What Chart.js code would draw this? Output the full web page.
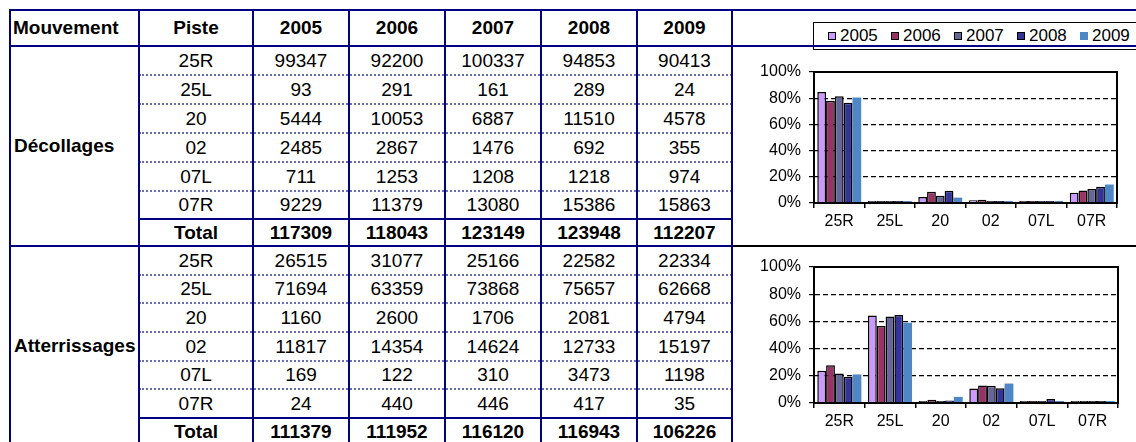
<!DOCTYPE html>
<html>
<head>
<meta charset="utf-8">
<script src="https://cdn.jsdelivr.net/npm/chart.js@4.4.0/dist/chart.umd.min.js"></script>
<style>
body { margin: 0; width: 1136px; height: 442px; overflow: hidden; background: #fff; position: relative;
  font-family: "Liberation Sans", Arial, sans-serif; }
.cell { position: absolute; display: flex; align-items: center; justify-content: center; font-size: 19px; color: #000; white-space: nowrap; }
.b { font-weight: bold; }
.ln { position: absolute; background: #000080; }
.dot { position: absolute; height: 0; border-top: 2px dotted #6a6ab8; }
#legend { position: absolute; left: 813px; top: 22px; width: 340px; height: 26px; border: 1.5px solid #000; background: #fff; }
.item { position: absolute; top: 0; height: 26px; display: flex; align-items: center; font-size: 17px; }
.mk { width: 6px; height: 6px; border: 1px solid #000; margin-right: 4px; }
canvas { position: absolute; }
</style>
</head>
<body>
<canvas id="decChart" width="403" height="190" style="left:733px; top:54px;"></canvas>
<canvas id="attChart" width="403" height="194" style="left:733px; top:248px;"></canvas>
<div id="legend"></div>
<script>
const runways = ['25R', '25L', '20', '02', '07L', '07R'];
const years = ['2005', '2006', '2007', '2008', '2009'];
const colors = ['#CC99FF', '#993366', '#666699', '#333399', '#4F86C6'];

// Décollages (table)
const dec2005 = [99347, 93, 5444, 2485, 711, 9229];
const dec2006 = [92200, 291, 10053, 2867, 1253, 11379];
const dec2007 = [100337, 161, 6887, 1476, 1208, 13080];
const dec2008 = [94853, 289, 11510, 692, 1218, 15386];
const dec2009 = [90413, 24, 4578, 355, 974, 15863];
const decTotal = [117309, 118043, 123149, 123948, 112207];

// Atterrissages (table)
const att2005 = [26515, 71694, 1160, 11817, 169, 24];
const att2006 = [31077, 63359, 2600, 14354, 122, 440];
const att2007 = [25166, 73868, 1706, 14624, 310, 446];
const att2008 = [22582, 75657, 2081, 12733, 3473, 417];
const att2009 = [22334, 62668, 4794, 15197, 1198, 35];
const attTotal = [111379, 111952, 116120, 116943, 106226];

// share per runway, % (charts)
const decPct2005 = [84.7, 0.1, 4.6, 2.1, 0.6, 7.9];
const decPct2006 = [78.1, 0.2, 8.5, 2.4, 1.1, 9.6];
const decPct2007 = [81.5, 0.1, 5.6, 1.2, 1.0, 10.6];
const decPct2008 = [76.5, 0.2, 9.3, 0.6, 1.0, 12.4];
const decPct2009 = [80.6, 0.0, 4.1, 0.3, 0.9, 14.1];

const attPct2005 = [23.8, 64.4, 1.0, 10.6, 0.2, 0.0];
const attPct2006 = [27.8, 56.6, 2.3, 12.8, 0.1, 0.4];
const attPct2007 = [21.7, 63.6, 1.5, 12.6, 0.3, 0.4];
const attPct2008 = [19.3, 64.7, 1.8, 10.9, 3.0, 0.4];
const attPct2009 = [21.0, 59.0, 4.5, 14.3, 1.1, 0.0];

// ---- table ----
const colX = [10, 139, 253, 349, 445, 541, 637, 732];

function cell(text, x0, x1, y0, y1, cls, style) {
    const d = document.createElement('div');
    d.className = 'cell ' + (cls || '');
    d.textContent = text;
    d.style.left = x0 + 'px';
    d.style.width = (x1 - x0) + 'px';
    d.style.top = y0 + 'px';
    d.style.height = (y1 - y0) + 'px';
    if (style) Object.assign(d.style, style);
    document.body.appendChild(d);
}
function line(x0, x1, y0, y1, color) {
    const d = document.createElement('div');
    d.className = 'ln';
    d.style.left = (x0 - 1) + 'px';
    d.style.top = (y0 - 1) + 'px';
    d.style.width = (x1 - x0 + 2) + 'px';
    d.style.height = (y1 - y0 + 2) + 'px';
    if (color) d.style.background = color;
    document.body.appendChild(d);
}
function dotted(x0, x1, y) {
    const d = document.createElement('div');
    d.className = 'dot';
    d.style.left = x0 + 'px';
    d.style.width = (x1 - x0) + 'px';
    d.style.top = (y - 1) + 'px';
    document.body.appendChild(d);
}

// header
cell('Mouvement', colX[0], colX[1], 10, 46, 'b', { justifyContent: 'flex-start', paddingLeft: '3px' });
cell('Piste', colX[1], colX[2], 10, 46, 'b');
years.forEach((y, i) => cell(y, colX[i + 2], colX[i + 3], 10, 46, 'b'));

function group(name, tops, totalTop, totalBottom, cols, totals) {
    cell(name, colX[0], colX[1], tops[0], totalBottom, 'b', { justifyContent: 'flex-start', paddingLeft: '4px' });
    runways.forEach((r, i) => {
        const y0 = tops[i], y1 = i < 5 ? tops[i + 1] : totalTop;
        cell(r, colX[1], colX[2], y0, y1);
        cols.forEach((c, j) => cell(c[i], colX[j + 2], colX[j + 3], y0, y1));
        if (i > 0) dotted(colX[1], colX[7], y0);
    });
    cell('Total', colX[1], colX[2], totalTop, totalBottom, 'b');
    totals.forEach((t, j) => cell(t, colX[j + 2], colX[j + 3], totalTop, totalBottom, 'b'));
    line(colX[1], colX[7], totalTop, totalTop);
}
group('Décollages', [46, 75, 104, 133, 162, 191], 219, 246,
      [dec2005, dec2006, dec2007, dec2008, dec2009], decTotal);
group('Atterrissages', [246, 275, 303, 332, 361, 389], 418, 445,
      [att2005, att2006, att2007, att2008, att2009], attTotal);

line(colX[0], 1140, 10, 10);
line(colX[0], 1140, 46, 46);
line(colX[0], colX[7], 246, 246);
line(colX[7], 1140, 246, 246, '#000');
colX.forEach(x => line(x, x, 10, 446));

// legend
const legend = document.getElementById('legend');
years.forEach((y, i) => {
    const it = document.createElement('div');
    it.className = 'item';
    it.style.left = (14 + i * 63) + 'px';
    it.innerHTML = '<div class="mk" style="background:' + colors[i] + (i == 4 ? ';border-color:' + colors[i] : '') + '"></div>' + y;
    legend.appendChild(it);
});

// ---- charts ----
Chart.defaults.font.family = '"Liberation Sans", Arial, sans-serif';
Chart.defaults.color = '#000';

const frame = {
    id: 'frame',
    afterDraw(chart) {
        const a = chart.chartArea, ctx = chart.ctx;
        ctx.save();
        ctx.strokeStyle = '#000';
        ctx.lineWidth = 2;
        ctx.strokeRect(a.left, a.top, a.right - a.left, a.bottom - a.top);
        ctx.restore();
    }
};

function barChart(id, series, padTop, padRight, axisH) {
    return new Chart(document.getElementById(id), {
        type: 'bar',
        data: {
            labels: runways,
            datasets: series.map((vals, i) => ({
                label: years[i],
                data: vals,
                backgroundColor: colors[i],
                borderColor: '#000',
                borderWidth: i < 4 ? 1.5 : 0,
                minBarLength: 2,
                barPercentage: 1,
                categoryPercentage: 0.87
            }))
        },
        options: {
            responsive: false,
            animation: false,
            layout: { padding: { top: padTop, right: padRight, left: 0, bottom: 0 } },
            plugins: { legend: { display: false }, tooltip: { enabled: false } },
            scales: {
                x: {
                    grid: { drawOnChartArea: false, drawTicks: true, tickLength: 5, color: '#000', lineWidth: 1.5, offset: true },
                    border: { display: true, color: '#000', width: 2 },
                    ticks: { color: '#000', font: { size: 16 }, padding: 4, maxRotation: 0 },
                    afterFit: s => { s.height = axisH; }
                },
                y: {
                    min: 0,
                    max: 100,
                    ticks: { stepSize: 20, callback: v => v + '%', color: '#000', font: { size: 16 }, padding: 8 },
                    grid: { color: '#000', lineWidth: 1.2, tickLength: 5, tickBorderDash: [] },
                    border: { display: true, color: '#000', width: 2, dash: [5, 3] },
                    afterFit: s => { s.width = 81; }
                }
            }
        },
        plugins: [frame]
    });
}

barChart('decChart', [decPct2005, decPct2006, decPct2007, decPct2008, decPct2009], 18, 19, 41);
barChart('attChart', [attPct2005, attPct2006, attPct2007, attPct2008, attPct2009], 19, 18, 39);
</script>
</body>
</html>
